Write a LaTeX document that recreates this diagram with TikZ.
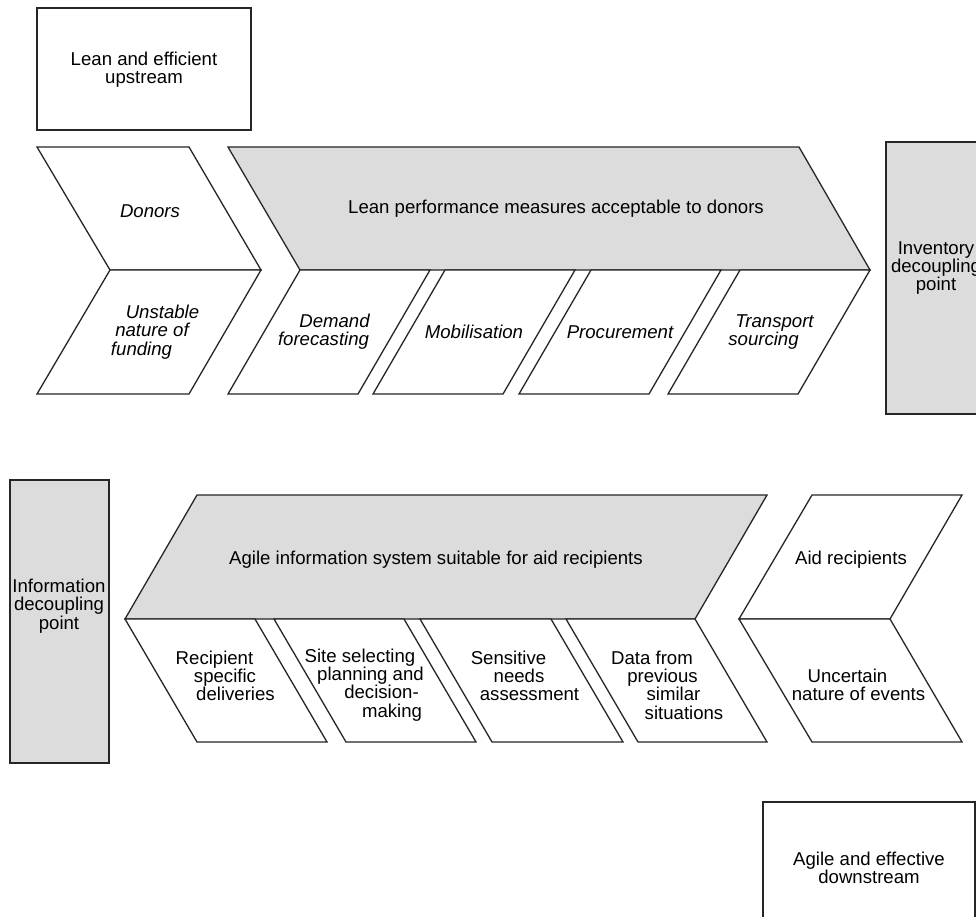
\documentclass[tikz,border=0pt]{standalone}
\usepackage{fontspec}
\setmainfont{Liberation Sans}
\definecolor{bandgray}{HTML}{DCDCDC}
\definecolor{edge}{HTML}{262626}

\begin{document}
\begin{tikzpicture}[x=1pt,y=-1pt,
    chev/.style={draw=edge,line width=1.3pt,fill=white},
    band/.style={chev,fill=bandgray},
    lbl/.style={font={\fontsize{18.6}{18.3}\selectfont},align=center,inner sep=0pt},
    ilbl/.style={lbl,font={\fontsize{18.6}{18.3}\selectfont\itshape}}
  ]
  \useasboundingbox (0,0) rectangle (976,917);
  \clip (0,0) rectangle (976,917);

  % upstream
  \draw[chev] (37,8) rectangle (251,130);
  \draw[chev] (37,147) -- (189,147) -- (261,270) -- (110,270) -- cycle;
  \draw[chev] (110,270) -- (261,270) -- (189,394) -- (37,394) -- cycle;
  \draw[band] (228,147) -- (799,147) -- (870,270) -- (300,270) -- cycle;
  \draw[chev] (300,270) -- (430,270) -- (358,394) -- (228,394) -- cycle;
  \draw[chev] (445,270) -- (575,270) -- (503,394) -- (373,394) -- cycle;
  \draw[chev] (591,270) -- (721,270) -- (649,394) -- (519,394) -- cycle;
  \draw[chev] (740,270) -- (870,270) -- (798,394) -- (668,394) -- cycle;
  \draw[band] (886,142) rectangle (990,414);

  \node[lbl] (upstream) at (144,70) {Lean and efficient\\upstream};
  \node[ilbl] (donors) at (150,211) {Donors};
  \node[ilbl] (funding) at (152,332) {\hspace*{21pt}Unstable\\nature of\\\hspace*{-21pt}funding};
  \node[lbl] (leanpm) at (556,209) {Lean performance measures acceptable to donors};
  \node[ilbl] (demand) at (329,332) {\hspace*{11pt}Demand\\\hspace*{-11pt}forecasting};
  \node[ilbl] (mobil) at (474,332) {Mobilisation};
  \node[ilbl] (procure) at (620,332) {Procurement};
  \node[ilbl] (transport) at (769,332) {\hspace*{11pt}Transport\\\hspace*{-11pt}sourcing};
  \node[lbl] (inventory) at (936,268) {Inventory\\decoupling\\point};

  % downstream
  \draw[band] (10,480) rectangle (109,763);
  \draw[band] (197,495) -- (767,495) -- (695,619) -- (125,619) -- cycle;
  \draw[chev] (125,619) -- (255,619) -- (327,742) -- (197,742) -- cycle;
  \draw[chev] (274,619) -- (404,619) -- (476,742) -- (346,742) -- cycle;
  \draw[chev] (420,619) -- (551,619) -- (623,742) -- (492,742) -- cycle;
  \draw[chev] (566,619) -- (695,619) -- (767,742) -- (638,742) -- cycle;
  \draw[chev] (812,495) -- (962,495) -- (890,619) -- (739,619) -- cycle;
  \draw[chev] (739,619) -- (890,619) -- (962,742) -- (812,742) -- cycle;
  \draw[chev] (763,802) rectangle (975,935);

  \node[lbl] (information) at (59,606) {Information\\decoupling\\point};
  \node[lbl] (agileis) at (436,560) {Agile information system suitable for aid recipients};
  \node[lbl] (recipient) at (225,676) {\hspace*{-21pt}Recipient\\specific\\\hspace*{21pt}deliveries};
  \node[lbl] (site) at (376,685) {\hspace*{-32pt}Site selecting\\\hspace*{-11pt}planning and\\\hspace*{11pt}decision-\\\hspace*{32pt}making};
  \node[lbl] (sensitive) at (519,676) {\hspace*{-21pt}Sensitive\\needs\\\hspace*{21pt}assessment};
  \node[lbl] (prevdata) at (668,685) {\hspace*{-32pt}Data from\\\hspace*{-11pt}previous\\\hspace*{11pt}similar\\\hspace*{32pt}situations};
  \node[lbl] (aid) at (851,560) {Aid recipients};
  \node[lbl] (uncertain) at (853,685) {\hspace*{-11pt}Uncertain\\\hspace*{11pt}nature of events};
  \node[lbl] (downstream) at (869,868) {Agile and effective\\downstream};
\end{tikzpicture}
\end{document}
